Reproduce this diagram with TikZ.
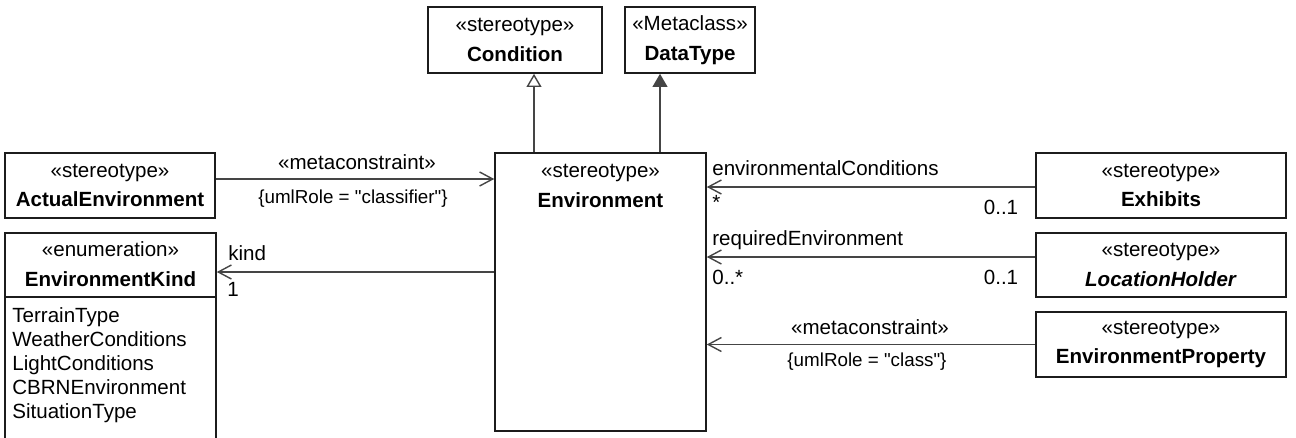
\documentclass[tikz,border=0pt]{standalone}
\usepackage{fontspec}
\setmainfont{Liberation Sans}
\usetikzlibrary{arrows.meta}
\definecolor{linegray}{HTML}{454545}
\definecolor{boxline}{HTML}{1C1C1C}
\newcommand{\umlsize}{\fontsize{11.7}{17}\selectfont}
\newcommand{\tagsize}{\fontsize{10.7}{13}\selectfont}
\tikzset{cls/.style = {draw = boxline, line width = 0.9pt, rectangle, inner sep = 0, align = center, font = \umlsize},
  assoc/.style = {draw = linegray, line width = 0.8pt, -{Straight Barb[length = 7.5pt, width = 8pt]}},
  genopen/.style = {draw = linegray, line width = 0.8pt, -{Triangle[open, fill = white, length = 7.5pt, width = 8.5pt]}},
  genfill/.style = {draw = linegray, line width = 0.8pt, -{Triangle[fill = linegray, length = 7.5pt, width = 8.5pt]}},
  lbl/.style = {inner sep = 0, font = \umlsize},
  tag/.style = {inner sep = 0, font = \tagsize}}

\begin{document}
\begin{tikzpicture}[x = 0.02cm, y = -0.02cm]
    \useasboundingbox (0, 0) rectangle (1296, 437);

    % classes
    \node [cls, minimum width = 3.48cm, minimum height = 1.32cm] (cond) at (515, 40) {«stereotype»\\\textbf{Condition}};
    \node [cls, minimum width = 2.6cm, minimum height = 1.32cm] (dtype) at (690, 40) {«Metaclass»\\\textbf{DataType}};
    \node [cls, minimum width = 4.22cm, minimum height = 5.56cm] (env) at (600.5, 292) {};
    \node [lbl, align = center] (envtitle) at (600.5, 186) {«stereotype»\\\textbf{Environment}};
    \node [cls, minimum width = 4.2cm, minimum height = 1.3cm] (actual) at (110, 185.5) {«stereotype»\\\textbf{ActualEnvironment}};
    \node [cls, minimum width = 4.22cm, minimum height = 4.74cm] (kindbox) at (110.5, 351.5) {};
    \node [lbl, align = center] (kindtitle) at (110.5, 264) {«enumeration»\\\textbf{EnvironmentKind}};
    \draw [draw = boxline, line width = 0.9pt] (kindbox.west |- 0, 297) -- (kindbox.east |- 0, 297);
    \node [lbl, align = left, anchor = north west, font = \fontsize{11.7}{13.6}\selectfont] (literals) at (12, 307.5)
      {TerrainType\\WeatherConditions\\LightConditions\\CBRNEnvironment\\SituationType};
    \node [cls, minimum width = 5cm, minimum height = 1.3cm] (exhibits) at (1161, 185.5) {«stereotype»\\\textbf{Exhibits}};
    \node [cls, minimum width = 5cm, minimum height = 1.28cm] (locholder) at (1161, 265) {«stereotype»\\\textbf{\textit{LocationHolder}}};
    \node [cls, minimum width = 5cm, minimum height = 1.3cm] (envprop) at (1161, 344.5) {«stereotype»\\\textbf{EnvironmentProperty}};

    % generalizations
    \draw [genopen] (env.north -| 534, 0) -- (cond.south -| 534, 0);
    \draw [genfill] (env.north -| 660, 0) -- (dtype.south -| 660, 0);

    % associations
    \draw [assoc] (actual.east |- 0, 179) -- (env.west |- 0, 179);
    \node [lbl] (mc1) at (357, 162) {«metaconstraint»};
    \node [tag] (role1) at (353, 199) {\{umlRole = \textquotedbl classifier\textquotedbl\}};

    \draw [assoc] (env.west |- 0, 272) -- (kindbox.east |- 0, 272);
    \node [lbl, anchor = west] (kind) at (228, 253) {kind};
    \node [lbl, anchor = west] (kindmult) at (227, 289) {1};

    \draw [assoc] (exhibits.west |- 0, 187) -- (env.east |- 0, 187);
    \node [lbl, anchor = west] (envcond) at (712, 168) {environmentalConditions};
    \node [lbl, anchor = west] (envcondmult) at (712, 202) {*};
    \node [lbl] (exmult) at (1001, 207) {0..1};

    \draw [assoc] (locholder.west |- 0, 257) -- (env.east |- 0, 257);
    \node [lbl, anchor = west] (reqenv) at (712, 240) {requiredEnvironment};
    \node [lbl, anchor = west] (reqenvmult) at (712, 277) {0..*};
    \node [lbl] (locmult) at (1001, 277) {0..1};

    \draw [assoc] (envprop.west) -- (env.east |- envprop.west);
    \node [lbl] (mc2) at (870, 327) {«metaconstraint»};
    \node [tag] (role2) at (867, 362) {\{umlRole = \textquotedbl class\textquotedbl\}};
  \end{tikzpicture}
\end{document}
